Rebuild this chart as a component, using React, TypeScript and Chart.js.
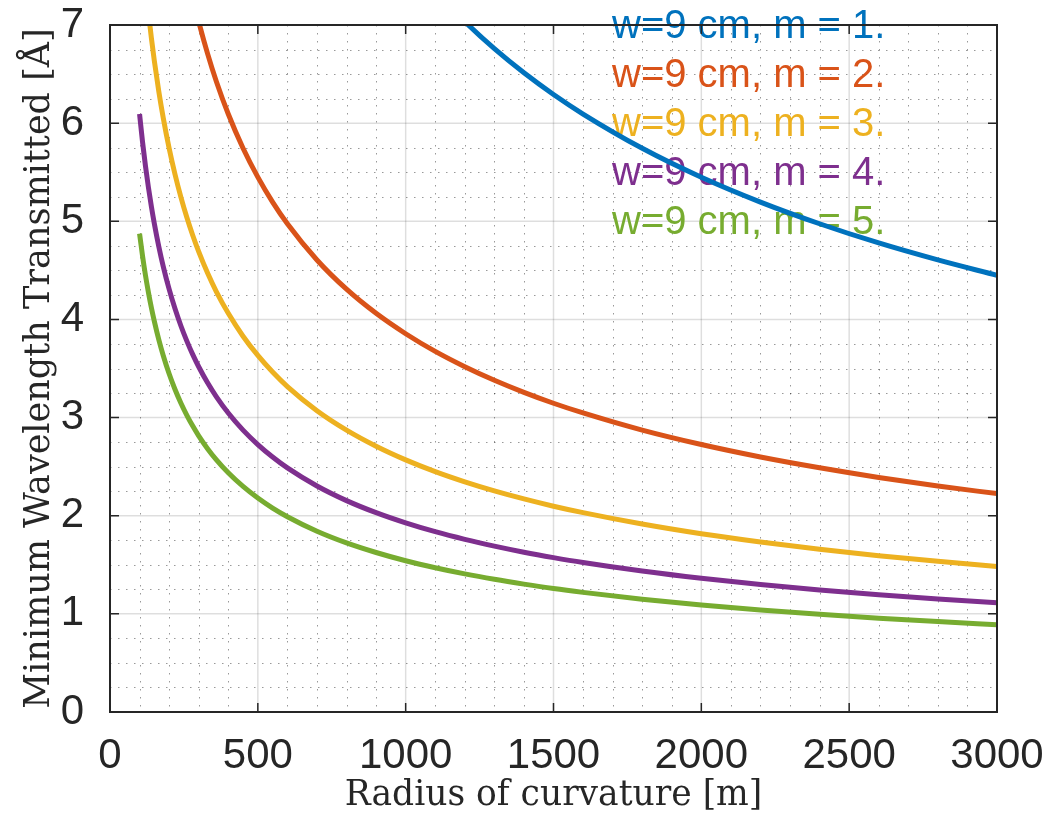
import React, { useEffect, useRef } from 'react';
import { Chart, registerables } from 'chart.js';

Chart.register(...registerables);

const radius = [100, 110, 120, 130, 140, 150, 165, 180, 200, 220, 240, 260, 280, 300, 330, 360, 400, 450, 500, 550, 600, 700, 800, 900, 1000, 1100, 1200, 1300, 1400, 1500, 1600, 1800, 2000, 2200, 2400, 2600, 2800, 3000];

const lambdaM1 = [24.37, 23.236, 22.247, 21.374, 20.597, 19.898, 18.972, 18.164, 17.232, 16.43, 15.731, 15.114, 14.564, 14.07, 13.415, 12.844, 12.185, 11.488, 10.899, 10.391, 9.949, 9.211, 8.616, 8.123, 7.707, 7.348, 7.035, 6.759, 6.513, 6.292, 6.093, 5.744, 5.449, 5.196, 4.975, 4.779, 4.606, 4.449];
const lambdaM2 = [12.185, 11.618, 11.124, 10.687, 10.299, 9.949, 9.486, 9.082, 8.616, 8.215, 7.866, 7.557, 7.282, 7.035, 6.708, 6.422, 6.093, 5.744, 5.45, 5.196, 4.975, 4.606, 4.308, 4.062, 3.854, 3.674, 3.518, 3.38, 3.257, 3.146, 3.047, 2.872, 2.725, 2.598, 2.488, 2.39, 2.303, 2.225];
const lambdaM3 = [8.123, 7.745, 7.416, 7.125, 6.866, 6.633, 6.324, 6.055, 5.744, 5.477, 5.244, 5.038, 4.855, 4.69, 4.472, 4.281, 4.062, 3.829, 3.633, 3.464, 3.316, 3.07, 2.872, 2.708, 2.569, 2.449, 2.345, 2.253, 2.171, 2.097, 2.031, 1.915, 1.816, 1.732, 1.658, 1.593, 1.535, 1.483];
const lambdaM4 = [6.093, 5.809, 5.562, 5.344, 5.149, 4.975, 4.743, 4.541, 4.308, 4.108, 3.933, 3.779, 3.641, 3.518, 3.354, 3.211, 3.046, 2.872, 2.725, 2.598, 2.487, 2.303, 2.154, 2.031, 1.927, 1.837, 1.759, 1.69, 1.628, 1.573, 1.523, 1.436, 1.362, 1.299, 1.244, 1.195, 1.152, 1.112];
const lambdaM5 = [4.874, 4.647, 4.449, 4.275, 4.119, 3.98, 3.794, 3.633, 3.446, 3.286, 3.146, 3.023, 2.913, 2.814, 2.683, 2.569, 2.437, 2.298, 2.18, 2.078, 1.99, 1.842, 1.723, 1.625, 1.541, 1.47, 1.407, 1.352, 1.303, 1.258, 1.219, 1.149, 1.09, 1.039, 0.995, 0.956, 0.921, 0.89];

const seriesLabels = ['w=9 cm, m = 1.', 'w=9 cm, m = 2.', 'w=9 cm, m = 3.', 'w=9 cm, m = 4.', 'w=9 cm, m = 5.'];
const seriesColors = ['#0072BD', '#D95319', '#EDB120', '#7E2F8E', '#77AC30'];

const xMajorTicks = [0, 500, 1000, 1500, 2000, 2500, 3000];
const yMajorTicks = [0, 1, 2, 3, 4, 5, 6, 7];
const xMinorStep = 100;
const yMinorStep = 0.25;

const xTitle = 'Radius of curvature [m]';
const yTitle = 'Minimum Wavelength Transmitted [Å]';

const AXIS_COLOR = '#262626';

const decorPlugin = {
  id: 'decor',
  beforeDatasetsDraw(chart: any) {
    const { ctx, chartArea, scales } = chart;
    const { left, right, top, bottom } = chartArea;
    const x = scales.x;
    const y = scales.y;
    ctx.save();
    ctx.strokeStyle = 'rgba(0,0,0,0.4)';
    ctx.lineWidth = 1;
    ctx.setLineDash([1.5, 6.5]);
    for (let v = xMinorStep; v < 3000; v += xMinorStep) {
      if (v % 500 === 0) continue;
      const px = Math.round(x.getPixelForValue(v)) + 0.5;
      ctx.beginPath();
      ctx.moveTo(px, top);
      ctx.lineTo(px, bottom);
      ctx.stroke();
    }
    for (let v = yMinorStep; v < 7; v += yMinorStep) {
      if (Math.abs(v - Math.round(v)) < 1e-6) continue;
      const py = Math.round(y.getPixelForValue(v)) + 0.5;
      ctx.beginPath();
      ctx.moveTo(left, py);
      ctx.lineTo(right, py);
      ctx.stroke();
    }
    ctx.setLineDash([]);
    ctx.strokeStyle = 'rgba(0,0,0,0.13)';
    ctx.lineWidth = 1.5;
    for (const v of xMajorTicks) {
      const px = x.getPixelForValue(v);
      ctx.beginPath();
      ctx.moveTo(px, top);
      ctx.lineTo(px, bottom);
      ctx.stroke();
    }
    for (const v of yMajorTicks) {
      const py = y.getPixelForValue(v);
      ctx.beginPath();
      ctx.moveTo(left, py);
      ctx.lineTo(right, py);
      ctx.stroke();
    }
    ctx.font = '40px "Liberation Sans", Arial, sans-serif';
    ctx.textAlign = 'left';
    ctx.textBaseline = 'alphabetic';
    const baselines = [38, 87, 136, 185, 234];
    seriesLabels.forEach((lab, i) => {
      ctx.fillStyle = seriesColors[i];
      ctx.fillText(lab, 612, baselines[i]);
    });
    ctx.restore();
  },
  afterDatasetsDraw(chart: any) {
    const { ctx, chartArea, scales } = chart;
    const { left, right, top, bottom } = chartArea;
    const x = scales.x;
    const y = scales.y;
    ctx.save();
    ctx.strokeStyle = AXIS_COLOR;
    ctx.lineWidth = 2;
    ctx.strokeRect(left, top, right - left, bottom - top);
    ctx.lineWidth = 1.5;
    const tl = 9;
    for (const v of xMajorTicks) {
      const px = x.getPixelForValue(v);
      ctx.beginPath();
      ctx.moveTo(px, bottom);
      ctx.lineTo(px, bottom - tl);
      ctx.moveTo(px, top);
      ctx.lineTo(px, top + tl);
      ctx.stroke();
    }
    for (const v of yMajorTicks) {
      const py = y.getPixelForValue(v);
      ctx.beginPath();
      ctx.moveTo(left, py);
      ctx.lineTo(left + tl, py);
      ctx.moveTo(right, py);
      ctx.lineTo(right - tl, py);
      ctx.stroke();
    }
    ctx.restore();
  },
};

const zeroPad = (s: any) => {
  s.paddingTop = 0;
  s.paddingBottom = 0;
  s.paddingLeft = 0;
  s.paddingRight = 0;
};

export default function App() {
  const ref = useRef<HTMLCanvasElement>(null);
  useEffect(() => {
    document.body.style.margin = '0';
    const canvas = ref.current;
    if (!canvas) return;
    const series = [lambdaM1, lambdaM2, lambdaM3, lambdaM4, lambdaM5];
    const chart = new Chart(canvas, {
      type: 'line',
      data: {
        datasets: series.map((vals, i) => ({
          label: seriesLabels[i],
          data: radius.map((r, j) => ({ x: r, y: vals[j] })),
          borderColor: seriesColors[i],
          backgroundColor: seriesColors[i],
          borderWidth: 5,
          pointRadius: 0,
          cubicInterpolationMode: 'monotone',
          fill: false,
          clip: 0,
        })),
      },
      options: {
        responsive: false,
        animation: false,
        devicePixelRatio: 1,
        layout: { padding: { top: 25, right: 60, left: 0, bottom: 0 } },
        plugins: {
          legend: { display: false },
          tooltip: { enabled: false },
        },
        scales: {
          x: {
            type: 'linear',
            min: 0,
            max: 3000,
            afterBuildTicks: (s: any) => {
              s.ticks = xMajorTicks.map((v) => ({ value: v }));
            },
            ticks: {
              padding: 11,
              maxRotation: 0,
              autoSkip: false,
              color: AXIS_COLOR,
              callback: (v: any) => String(v),
              font: { family: '"Liberation Sans", Arial, sans-serif', size: 42 },
            },
            grid: { display: false },
            border: { display: false },
            title: {
              display: true,
              text: xTitle,
              color: AXIS_COLOR,
              font: { family: '"DejaVu Serif", serif', size: 34.5, lineHeight: 1 },
              padding: { top: 0, bottom: 1 },
            },
            afterFit: (s: any) => {
              s.height = 102;
              zeroPad(s);
            },
          },
          y: {
            type: 'linear',
            min: 0,
            max: 7,
            afterBuildTicks: (s: any) => {
              s.ticks = yMajorTicks.map((v) => ({ value: v }));
            },
            ticks: {
              padding: 18,
              color: AXIS_COLOR,
              callback: (v: any) => String(v),
              font: { family: '"Liberation Sans", Arial, sans-serif', size: 42 },
            },
            grid: { display: false },
            border: { display: false },
            title: {
              display: true,
              text: yTitle,
              color: AXIS_COLOR,
              font: { family: '"DejaVu Serif", serif', size: 35, lineHeight: 1 },
              padding: { top: 22, bottom: 0 },
            },
            afterFit: (s: any) => {
              s.width = 110;
              zeroPad(s);
            },
          },
        },
      },
      plugins: [decorPlugin],
    } as any);
    return () => chart.destroy();
  }, []);
  return (
    <div style={{ width: 1057, height: 814 }}>
      <canvas ref={ref} width={1057} height={814} style={{ display: 'block' }} />
    </div>
  );
}
